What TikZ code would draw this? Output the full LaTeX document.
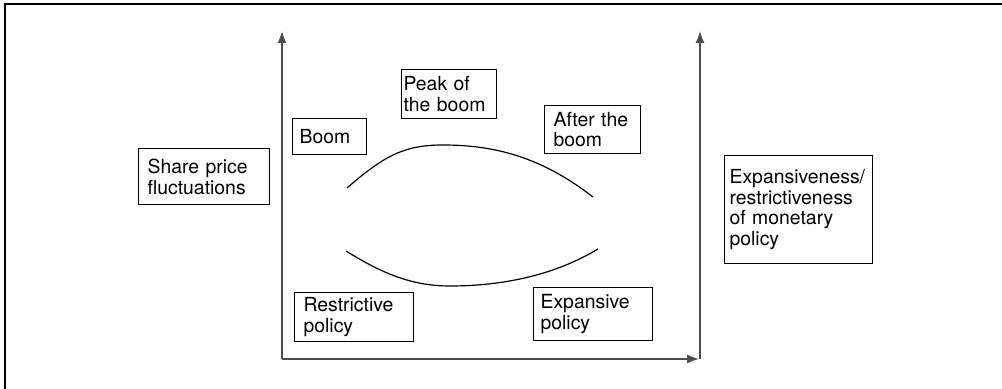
\documentclass[tikz,border=0pt]{standalone}
\usepackage{fontspec}
\setmainfont{TeX Gyre Heros}
\usepackage{tikz}
\usetikzlibrary{arrows.meta,positioning}

\tikzstyle{textbox} = [draw, line width=0.6pt, align=left, anchor=north west, inner ysep=0pt, font=\fontsize{9.7}{10.4}\selectfont]
\tikzstyle{axis} = [line width=0.8pt, black!70, -{Latex[length=6pt,width=4.6pt]}]
\tikzstyle{curve} = [line width=0.6pt]

\begin{document}
\begin{tikzpicture}[x=0.5pt, y=-0.5pt]
	\useasboundingbox (0,0) rectangle (1002,389);

	% Rahmen
	\draw[line width=1pt] (5,389) -- (5,4) -- (1002,4);

	% Koordinatensystem
	\coordinate (origin) at (282,359);
	\coordinate (ytop) at (282,31);
	\coordinate (xend) at (699,359);
	\coordinate (rbase) at (700,359);
	\coordinate (rtop) at (700,31);
	\draw[axis] (origin) -- (ytop);
	\draw[axis] (origin) -- (xend);
	\draw[axis] (rbase) -- (rtop);

	% Kurven
	\draw[curve] (347,188) .. controls (385,155) and (405,145) .. (443,145)
		.. controls (500,145) and (545,160) .. (593,197);
	\draw[curve] (346,251) .. controls (380,272) and (410,286) .. (450,286)
		.. controls (510,286) and (560,272) .. (598,249);

	% Beschriftungen
	\node[textbox, inner xsep=4.5pt, text width=56.5pt, minimum height=28pt] (share) at (138,148) {Share price\\fluctuations};
	\node[textbox, inner xsep=3.5pt, text width=30pt, minimum height=18pt] (boom) at (292,118) {Boom};
	\node[textbox, inner xsep=1pt, text width=45.5pt, minimum height=24.5pt] (peak) at (401,69) {Peak of\\the boom};
	\node[textbox, inner xsep=4.5pt, text width=39pt, minimum height=24pt] (after) at (544,105) {After the\\boom};
	\node[textbox, inner xsep=4.5pt, text width=50.5pt, minimum height=24.5pt] (restrictive) at (294,292) {Restrictive\\policy};
	\node[textbox, inner xsep=3.5pt, text width=52.5pt, minimum height=26.5pt] (expansive) at (533,287) {Expansive\\policy};
	\node[textbox, inner xsep=2.5pt, text width=69pt, minimum height=54pt] (monetary) at (724,155) {Expansiveness/\\restrictiveness\\of monetary\\policy};
\end{tikzpicture}
\end{document}
